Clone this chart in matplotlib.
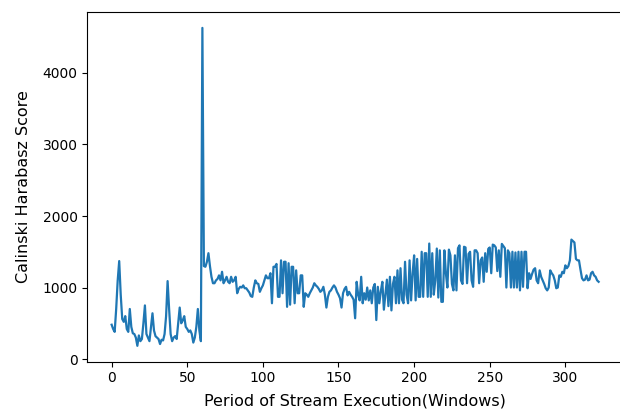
import matplotlib
matplotlib.use("Agg")
import matplotlib.pyplot as plt
import numpy as np

# Calinski-Harabasz score per window
score_start = [
    480, 420, 380, 700, 1100, 1370, 900, 560, 520, 600,
    420, 380, 700, 450, 360, 350, 300, 185, 330, 250,
    280, 500, 750, 350, 300, 250, 450, 640, 400, 320,
    300, 280, 210, 270, 260, 350, 600, 1090, 700, 350,
    250, 300, 320, 280, 500, 720, 500, 540, 600, 450,
    420, 380, 400, 350, 230, 300, 450, 700, 400, 250,
    4630,
]
score_settle = [
    1300, 1290, 1360, 1480, 1300, 1150, 1060, 1060, 1100, 1120,
    1170, 1100, 1220, 1060, 1100, 1150, 1080, 1060, 1150, 1080,
    1100, 1150, 920, 980, 1010, 1000, 1030, 990, 990, 960,
    930, 880, 870, 1000, 1100, 1060, 1050, 940, 990, 1030,
    1100, 1170, 1130, 1130, 1200, 780, 1290, 1290, 1330, 870,
    870, 1380, 920, 1360, 1360, 730, 1340, 760, 1290, 1290,
    780, 1240, 920, 920, 1170, 1170, 730, 920, 900, 870,
    920, 960, 1000, 1060, 1030, 1010, 980, 940, 960, 1010,
    900, 720,
]
score_middle = [
    870, 940, 960, 1000, 1030, 1000, 940, 900, 850, 720,
    920, 980, 1010, 890, 940, 900, 870, 830, 570, 1080,
    900, 820, 1150, 780, 920, 830, 1000, 820, 960, 780,
    1000, 1050, 545, 1010, 780, 950, 1080, 690, 900, 1110,
    740, 1150, 680, 1050, 1150, 780, 1240, 780, 1270, 830,
    780, 1360, 900, 780, 1380, 820, 1200, 1450, 820, 1400,
    870, 870, 1500, 870, 1480, 1480, 870, 1615, 870, 1480,
    900, 1100, 1545, 860,
]
score_wave = [
    1520, 800, 800, 1520, 1200, 1000, 1530, 1450, 1050, 960,
    1450, 960, 1550, 1590, 1100, 1050, 1570, 1560, 1060, 1470,
    1500, 1100, 1010, 1520, 1520, 1480, 1060, 1380, 1420, 1080,
    1480, 1220, 1540, 1560, 1200, 1600, 1590, 1560, 1230, 1520,
    1150, 1610, 1580, 1550, 1000, 1520, 1480, 1000, 1500, 1000,
    1490, 1000, 1500, 960, 1500, 1010, 1500, 1500, 990, 1200,
    1120, 1190, 1250, 1270, 1100, 1060,
]
score_end = [
    1240, 1150, 1100, 1050, 990, 960, 1000, 1240, 1200, 1170,
    1100, 990, 1000, 1170, 1150, 1220, 1200, 1310, 1270, 1300,
    1380, 1670, 1650, 1630, 1400, 1380, 1380, 1250, 1130, 1100,
    1110, 1170, 1100, 1110, 1200, 1220, 1170, 1150, 1100, 1080,
]

score = score_start + score_settle + score_middle + score_wave + score_end
windows = np.arange(len(score))

fig = plt.figure(figsize=(6.2, 4.15), dpi=100)
ax = fig.add_axes([0.1408, 0.1284, 0.864, 0.8427])

ax.plot(windows, score, color="#1f77b4", linewidth=1.6)

# the source screenshot is cut off just before the right-hand frame
ax.spines["right"].set_visible(False)

ax.set_xlabel("Period of Stream Execution(Windows)", fontsize=11.5, labelpad=6)
ax.set_ylabel("Calinski Harabasz Score", fontsize=11.5, labelpad=8)
ax.set_xticks([0, 50, 100, 150, 200, 250, 300])
ax.set_yticks([0, 1000, 2000, 3000, 4000])

fig.savefig("out.png", dpi=100)
